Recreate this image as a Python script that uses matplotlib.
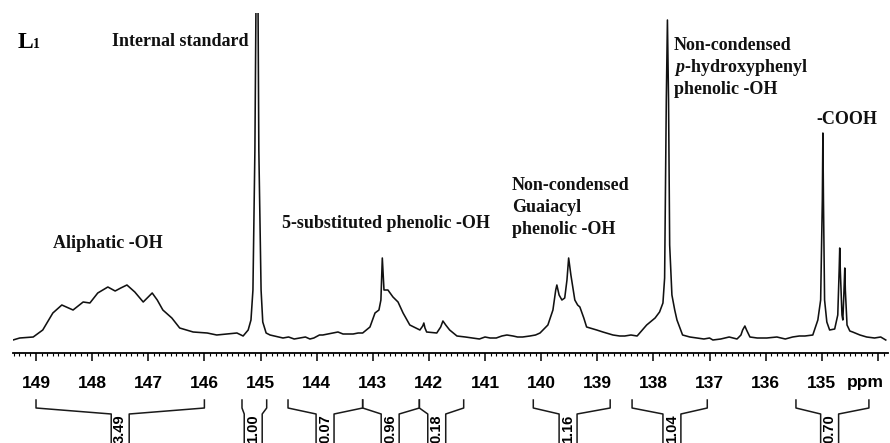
import numpy as np
import matplotlib.pyplot as plt

plt.rcParams['mathtext.fontset'] = 'custom'
plt.rcParams['mathtext.it'] = 'Liberation Serif:italic:bold'
plt.rcParams['mathtext.rm'] = 'Liberation Serif:bold'

# spectrum trace: chemical shift (ppm) and relative intensity
ppm = [149.41, 149.29, 149.05, 148.88, 148.70, 148.54, 148.34, 148.16, 148.04, 147.90,
       147.72, 147.59, 147.49, 147.38, 147.24, 147.09, 146.93, 146.84, 146.74, 146.58,
       146.44, 146.20, 145.95, 145.78, 145.60, 145.42, 145.31, 145.22, 145.17, 145.135,
       145.10, 145.08, 145.045, 145.03, 144.99, 144.96, 144.90, 144.83, 144.60, 144.50,
       144.40, 144.30, 144.20, 144.12, 144.05, 143.95, 143.89, 143.80, 143.71, 143.62,
       143.53, 143.44, 143.35, 143.26, 143.18, 143.05, 142.96, 142.89, 142.855, 142.83,
       142.80, 142.73, 142.64, 142.55, 142.46, 142.34, 142.16, 142.11, 142.09, 142.07,
       142.04, 141.86, 141.79, 141.75, 141.70, 141.63, 141.50, 141.35, 141.22, 141.10,
       141.00, 140.91, 140.80, 140.70, 140.61, 140.50, 140.42, 140.33, 140.20, 140.10,
       140.02, 139.88, 139.79, 139.74, 139.72, 139.68, 139.63, 139.58, 139.54, 139.51,
       139.47, 139.40, 139.35, 139.31, 139.24, 139.19, 139.01, 138.90, 138.72, 138.60,
       138.51, 138.40, 138.29, 138.12, 137.97, 137.89, 137.83, 137.80, 137.77, 137.75,
       137.73, 137.71, 137.67, 137.62, 137.58, 137.48, 137.35, 137.23, 137.10, 137.00,
       136.94, 136.80, 136.65, 136.51, 136.44, 136.41, 136.37, 136.34, 136.28, 136.15,
       135.98, 135.80, 135.65, 135.52, 135.40, 135.30, 135.16, 135.07, 135.02, 134.99,
       134.98, 134.97, 134.95, 134.91, 134.86, 134.77, 134.715, 134.69, 134.68, 134.67,
       134.64, 134.625, 134.61, 134.59, 134.58, 134.55, 134.50, 134.45, 134.32, 134.20,
       134.06, 133.95, 133.86]
intensity = [-2, 0, 1, 8, 25, 33, 28, 36, 35, 45,
             51, 47, 50, 53, 46, 36, 45, 38, 28, 20,
             10, 6, 5, 3, 4, 5, 2, 8, 18, 48,
             188, 340, 340, 188, 48, 16, 5, 3, 0, 1,
             -1, 0, 1, -1, 0, 3, 3, 4, 5, 6,
             4, 4, 4, 5, 5, 11, 25, 28, 38, 80,
             48, 48, 41, 36, 25, 13, 8, 12, 15, 10,
             6, 5, 11, 17, 13, 8, 2, 1, 0, -1,
             1, 0, 0, 2, 3, 2, 1, 1, 2, 3,
             5, 13, 28, 48, 53, 43, 38, 40, 58, 80,
             63, 38, 33, 31, 20, 11, 8, 6, 3, 2,
             2, 3, 2, 13, 20, 26, 35, 60, 238, 318,
             238, 93, 43, 28, 18, 3, 1, 0, -1, 0,
             -2, -1, 1, -1, 3, 8, 12, 8, 1, 0,
             0, 1, -1, 1, 2, 2, 3, 18, 38, 138,
             205, 138, 38, 16, 8, 9, 23, 68, 90, 68,
             23, 18, 38, 70, 48, 13, 7, 6, 3, 1,
             0, 1, -2]

# integration regions (left ppm, right ppm, label position) and integral values
int_start = [149.0, 145.33, 144.51, 143.18, 142.17, 140.14, 138.38, 135.46]
int_end = [146.0, 144.89, 143.18, 142.17, 141.38, 138.77, 137.04, 134.16]
int_center = [147.50, 145.13, 143.85, 142.69, 141.86, 139.52, 137.67, 134.86]
int_values = ['3.49', '1.00', '0.07', '0.96', '0.18', '1.16', '1.04', '0.70']

major_ticks = list(range(134, 150))
tick_labels = [''] + [str(t) for t in major_ticks[1:]]

order = np.argsort(ppm)[::-1]
ppm = np.array(ppm)[order]
intensity = np.array(intensity)[order]

fig = plt.figure(figsize=(8.9, 4.43), dpi=100)
ax = fig.add_axes([13 / 890, 90 / 443, 875 / 890, 340 / 443])
ax.plot(ppm, intensity, color='#111111', lw=1.15)
ax.set_xlim(149.41, 133.82)
ax.set_ylim(-15, 325)

for s in ['top', 'left', 'right']:
    ax.spines[s].set_visible(False)
ax.spines['bottom'].set_linewidth(1.3)
ax.set_yticks([])
ax.set_xticks(major_ticks)
ax.set_xticklabels(tick_labels, fontfamily='Liberation Sans', fontweight='bold', fontsize=12.5)
ax.set_xticks(np.arange(1339, 1495) / 10, minor=True)
ax.tick_params(axis='x', which='major', length=5.8, width=1.1, pad=11)
ax.tick_params(axis='x', which='minor', length=2.2, width=0.8)
ax.text(134.23, -0.087, 'ppm', transform=ax.get_xaxis_transform(), ha='center', va='center',
        fontfamily='Liberation Sans', fontweight='bold', fontsize=12.5)

# peak labels
lab = dict(fontfamily='Liberation Serif', fontweight='bold', fontsize=13, color='#111111')
ax.text(149.32, 290, 'L', ha='left', va='baseline', fontfamily='Liberation Serif',
        fontweight='bold', fontsize=17)
ax.text(149.05, 290, '1', ha='left', va='baseline', fontfamily='Liberation Serif',
        fontweight='bold', fontsize=10)
ax.text(145.21, 296, 'Internal standard', ha='right', va='center', **lab)
ax.text(148.70, 94, 'Aliphatic -OH', ha='left', va='center', **lab)
ax.text(144.62, 114, '5-substituted phenolic -OH', ha='left', va='center', **lab)
for i, line in enumerate(['Non-condensed', 'Guaiacyl', 'phenolic -OH']):
    ax.text(140.52, 152 - i * 22, line, ha='left', va='center', **lab)
for i, line in enumerate(['Non-condensed', r'$\mathit{p}$-hydroxyphenyl', 'phenolic -OH']):
    ax.text(137.64, 292 - i * 22, line, ha='left', va='center', **lab)
ax.text(135.09, 218, '-COOH', ha='left', va='center', **lab)

# integral brackets under the axis
ax_int = fig.add_axes([13 / 890, 0, 875 / 890, 48 / 443])
ax_int.set_xlim(ax.get_xlim())
ax_int.set_ylim(443, 395)
ax_int.axis('off')
hw = 0.16
for s, e, c, v in zip(int_start, int_end, int_center, int_values):
    ax_int.plot([s, s, c + hw, c + hw], [400, 408, 414, 450], color='#1a1a1a', lw=1.1)
    ax_int.plot([e, e, c - hw, c - hw], [400, 408, 414, 450], color='#1a1a1a', lw=1.1)
    ax_int.text(c, 414.5, v, rotation=90, ha='center', va='top', fontfamily='Liberation Sans',
                fontweight='bold', fontsize=10.5)

fig.savefig('out.png', dpi=100)
